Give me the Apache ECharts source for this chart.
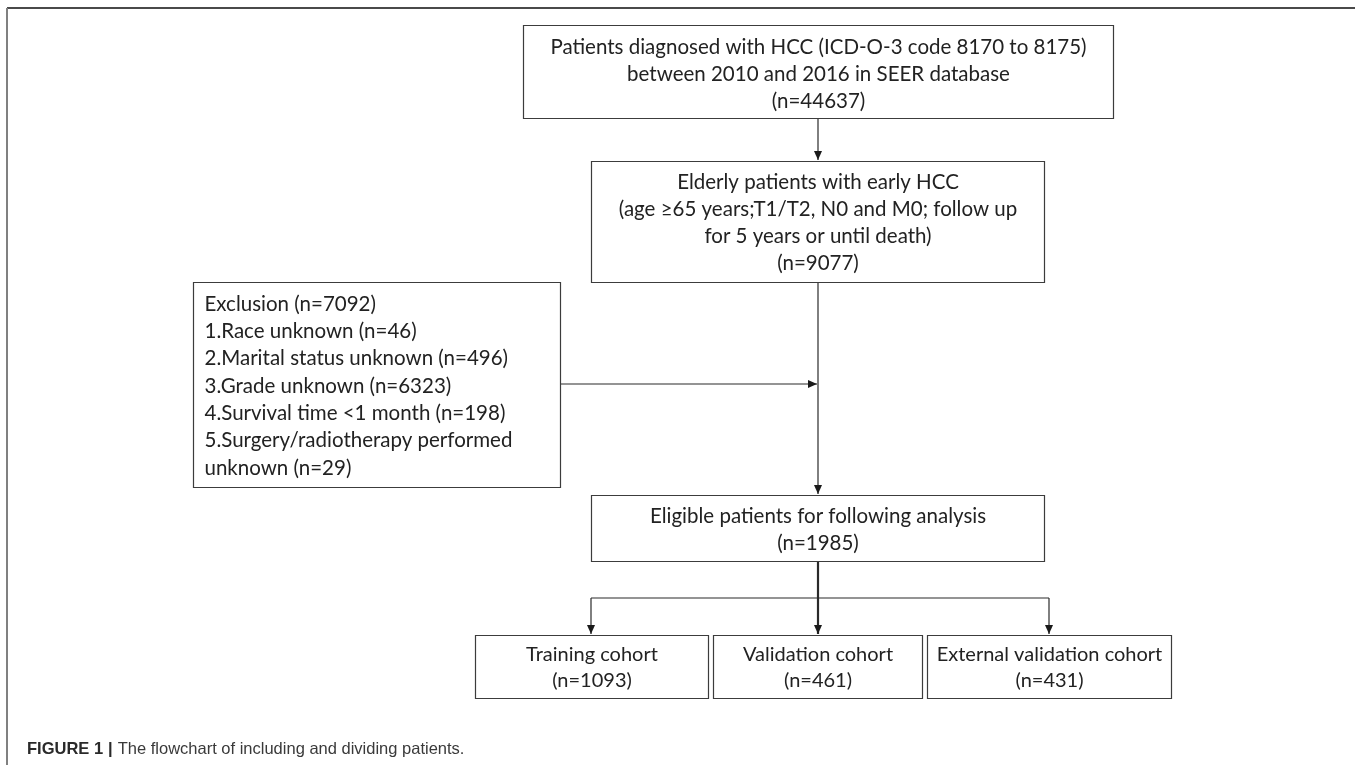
<!DOCTYPE html>
<html>
<head>
<meta charset="utf-8">
<script src="https://cdn.jsdelivr.net/npm/echarts@6/dist/echarts.min.js"></script>
<style>
  html, body { margin: 0; padding: 0; background: #fff; }
  #chart { width: 1355px; height: 765px; }
</style>
</head>
<body>
<div id="chart"></div>
<script>
// flow steps: text and patient counts
const stepTitles = [
  ['Patients diagnosed with HCC (ICD-O-3 code 8170 to 8175)', 'between 2010 and 2016 in SEER database'],
  ['Elderly patients with early HCC', '(age \u226565 years;T1/T2, N0 and M0; follow up', 'for 5 years or until death)'],
  ['Eligible patients for following analysis'],
  ['Training cohort'],
  ['Validation cohort'],
  ['External validation cohort']
];
const stepCounts = [44637, 9077, 1985, 1093, 461, 431];

// exclusion box
const exclusionTotal = 7092;
const exclusionReasons = ['Race unknown', 'Marital status unknown', 'Grade unknown',
  'Survival time <1 month', 'Surgery/radiotherapy performed\nunknown'];
const exclusionCounts = [46, 496, 6323, 198, 29];

// layout, in pixels of the 1355x765 page
const stepBoxes = [
  [523, 25, 1113, 118],
  [591, 161, 1044, 282],
  [591, 495, 1044, 561],
  [475, 635, 708, 698],
  [713, 635, 922, 698],
  [927, 635, 1171, 698]
];
const exclusionBox = [193, 282, 560, 487];
// x1, y1, x2, y2, arrow, width
const links = [
  [818, 118, 818, 160, 1, 1.2],
  [818, 282, 818, 494, 1, 1.2],
  [560, 384, 817, 384, 1, 1.2],
  [818, 561, 818, 634, 1, 2.2],
  [591, 598, 1049, 598, 0, 1.2],
  [591, 598, 591, 634, 1, 1.2],
  [1049, 598, 1049, 634, 1, 1.2]
];

const boxLabels = stepTitles.map((t, i) => t.concat('(n=' + stepCounts[i] + ')'));
const exclusionLabel = ['Exclusion (n=' + exclusionTotal + ')']
  .concat(exclusionReasons.map((r, k) => (k + 1) + '.' + r + ' (n=' + exclusionCounts[k] + ')'));

const font = 'Lato';
const ink = '#222';
const stroke = '#3c3c3c';

function rectOf(api) {
  const a = api.coord([api.value(0), api.value(1)]);
  const b = api.coord([api.value(2), api.value(3)]);
  return { x: Math.round(a[0]) + 0.5, y: Math.round(a[1]) + 0.5,
    width: Math.round(b[0] - a[0]), height: Math.round(b[1] - a[1]) };
}

function renderStep(params, api) {
  const r = rectOf(api);
  const i = api.value(4);
  return {
    type: 'group',
    children: [
      { type: 'rect', shape: r, style: { fill: '#fff', stroke: stroke, lineWidth: 1.2 } },
      { type: 'text', style: {
        text: boxLabels[i].join('\n'), x: r.x + r.width / 2, y: r.y + r.height / 2 + (i === 0 ? 2.5 : 1),
        align: 'center', verticalAlign: 'middle', lineHeight: i >= 3 ? 26 : 27,
        fontFamily: font, fontSize: i >= 3 ? 20 : 20.5, fill: ink } }
    ]
  };
}

function renderExclusion(params, api) {
  const r = rectOf(api);
  return {
    type: 'group',
    children: [
      { type: 'rect', shape: r, style: { fill: '#fff', stroke: stroke, lineWidth: 1.2 } },
      { type: 'text', style: {
        text: exclusionLabel.join('\n'), x: r.x + 11, y: r.y + r.height / 2 + 1,
        align: 'left', verticalAlign: 'middle', lineHeight: 27.3,
        fontFamily: font, fontSize: 20.5, fill: ink } }
    ]
  };
}

function renderLink(params, api) {
  const p = api.coord([api.value(0), api.value(1)]);
  const q = api.coord([api.value(2), api.value(3)]);
  const w = api.value(5);
  const children = [{ type: 'line', shape: { x1: p[0], y1: p[1], x2: q[0], y2: q[1] },
    style: { stroke: '#2a2a2a', lineWidth: w } }];
  if (api.value(4)) {
    const dx = q[0] - p[0], dy = q[1] - p[1];
    const len = Math.sqrt(dx * dx + dy * dy);
    const ux = dx / len, uy = dy / len;
    const L = 9, H = 4;
    children.push({ type: 'polygon', shape: { points: [
      [q[0], q[1]],
      [q[0] - ux * L - uy * H, q[1] - uy * L + ux * H],
      [q[0] - ux * L + uy * H, q[1] - uy * L - ux * H]
    ] }, style: { fill: '#1a1a1a' } });
  }
  return { type: 'group', children: children };
}

const chart = echarts.init(document.getElementById('chart'));
chart.setOption({
  animation: false,
  backgroundColor: '#fff',
  grid: { left: 0, right: 0, top: 0, bottom: 0 },
  xAxis: { type: 'value', min: 0, max: 1355, show: false },
  yAxis: { type: 'value', min: 0, max: 765, inverse: true, show: false },
  title: {
    left: 22, top: 735,
    text: '{b|FIGURE 1} {b||} {n|The flowchart of including and dividing patients.}',
    textStyle: {
      rich: {
        b: { fontFamily: 'Liberation Sans', fontWeight: 'bold', fontSize: 16.5, color: '#2a2a2a' },
        n: { fontFamily: 'Liberation Sans', fontWeight: 'normal', fontSize: 16.5, color: '#3a3a3a' }
      }
    }
  },
  graphic: [
    { type: 'line', shape: { x1: 7, y1: 8, x2: 1355, y2: 8 }, style: { stroke: '#4a4a4a', lineWidth: 2 } },
    { type: 'line', shape: { x1: 7, y1: 8, x2: 7, y2: 765 }, style: { stroke: '#808080', lineWidth: 2 } }
  ],
  series: [
    { type: 'custom', coordinateSystem: 'cartesian2d', renderItem: renderLink,
      data: links, silent: true },
    { type: 'custom', coordinateSystem: 'cartesian2d', renderItem: renderStep,
      data: stepBoxes.map((b, i) => b.concat(i)), silent: true },
    { type: 'custom', coordinateSystem: 'cartesian2d', renderItem: renderExclusion,
      data: [exclusionBox], silent: true }
  ]
});
</script>
</body>
</html>
